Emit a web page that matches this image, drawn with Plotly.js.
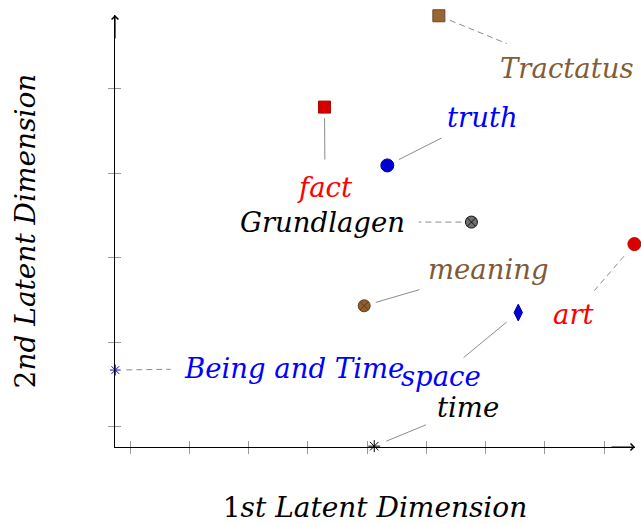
<!DOCTYPE html>
<html>
<head>
<meta charset="utf-8">
<script src="https://cdn.plot.ly/plotly-3.0.1.min.js"></script>
<style>
  html, body { margin: 0; padding: 0; background: #fff; }
  #chart { width: 641px; height: 524px; }
</style>
</head>
<body>
<div id="chart"></div>
<script>
// words placed in the 2-d latent space
const words = ["Tractatus", "fact", "truth", "Grundlagen", "meaning", "space", "art", "Being and Time", "time"];
const dim1 = [1.21, -0.72, 0.34, 1.76, -0.05, 2.55, 4.51, -4.25, 0.12];
const dim2 = [2.86, 1.78, 1.09, 0.42, -0.57, -0.65, 0.16, -1.33, -2.23];

// where each word's label sits (same units as the axes)
const labelX = [3.37, -0.71, 1.95, -0.75, 2.05, 1.25, 3.49, -1.24, 1.71];
const labelY = [2.24, 0.84, 1.66, 0.42, -0.14, -1.40, -0.67, -1.30, -1.77];

const xTicks = [-4, -3, -2, -1, 0, 1, 2, 3, 4];
const yTicks = [-2, -1, 0, 1, 2];

// styles
const symbols = ["square", "square", "circle", "circle-x", "circle-x", "diamond-tall", "circle", "asterisk-open", "asterisk-open"];
const fillCol = ["#9a6532", "#d40000", "#0000d0", "#707070", "#8f5f2f", "#0000d0", "#d90000", "#0000ff", "#000000"];
const edgeCol = ["#6e4522", "#b00000", "#0000b0", "#111111", "#5e3c1c", "#0000b0", "#c00000", "#0000ff", "#000000"];
const sizes = [12, 12, 13, 12, 12, 12, 13, 9, 10];
const textCol = ["#845c36", "#ff0000", "#0000ff", "#000000", "#7f5a36", "#0000ff", "#ff0000", "#0000ff", "#000000"];
const dashed = [true, false, false, true, false, false, true, true, false];
const gapAtPoint = [12, 11, 13, 10, 12, 15, 16, 11, 13];
const gapAtLabel = [65, 27, 46, 96, 72, 29, 31, 123, 46];

const W = 641, H = 524;
const margin = { l: 115, r: 6, t: 15, b: 77 };
const xRange = [-4.255, 4.52];
const yRange = [-2.24, 2.869];
const serif = "DejaVu Serif";

const pxX = (W - margin.l - margin.r) / (xRange[1] - xRange[0]);
const pxY = (H - margin.t - margin.b) / (yRange[1] - yRange[0]);

// leader lines from each point toward its label, trimmed at both ends
const shapes = words.map((w, i) => {
  const dx = (labelX[i] - dim1[i]) * pxX;
  const dy = (labelY[i] - dim2[i]) * pxY;
  const len = Math.hypot(dx, dy);
  const ux = dx / len, uy = dy / len;
  return {
    type: "line", xref: "x", yref: "y", layer: "below",
    x0: dim1[i] + ux * gapAtPoint[i] / pxX,
    y0: dim2[i] + uy * gapAtPoint[i] / pxY,
    x1: labelX[i] - ux * gapAtLabel[i] / pxX,
    y1: labelY[i] - uy * gapAtLabel[i] / pxY,
    line: { color: "#8c8c8c", width: 1, dash: dashed[i] ? "6px,4px" : "solid" }
  };
});

const annotations = words.map((w, i) => ({
  text: w, x: labelX[i], y: labelY[i], xref: "x", yref: "y",
  showarrow: false, xanchor: "center", yanchor: "middle",
  font: { family: serif, size: 27.5, color: textCol[i], style: "italic" }
}));

// arrow heads on both axes
annotations.push({
  text: "", x: xRange[1], y: yRange[0], xref: "x", yref: "y",
  showarrow: true, ax: -25, ay: 0, arrowhead: 4, arrowsize: 1.1, arrowwidth: 1.2,
  arrowcolor: "#000", standoff: 0
});
annotations.push({
  text: "", x: xRange[0], y: yRange[1], xref: "x", yref: "y",
  showarrow: true, ax: 0, ay: 25, arrowhead: 4, arrowsize: 1.1, arrowwidth: 1.2,
  arrowcolor: "#000", standoff: 0
});

const points = {
  x: dim1, y: dim2, mode: "markers", type: "scatter", cliponaxis: false,
  hoverinfo: "text", text: words,
  marker: {
    symbol: symbols, size: sizes, color: fillCol, opacity: 1,
    line: { color: edgeCol, width: 1 }
  }
};
// keeps the overlaid tick axes alive
const tickHolder = { x: [], y: [], xaxis: "x2", yaxis: "y2", type: "scatter", mode: "markers", hoverinfo: "skip" };

const baseAxis = {
  showgrid: false, zeroline: false, showticklabels: false,
  tickmode: "array", tickcolor: "#9a9a9a", tickwidth: 1, ticklen: 6, fixedrange: true
};

const layout = {
  width: W, height: H, margin: margin,
  paper_bgcolor: "#fff", plot_bgcolor: "#fff", showlegend: false,
  xaxis: Object.assign({}, baseAxis, {
    range: xRange, tickvals: xTicks, ticks: "outside",
    showline: true, linecolor: "#000", linewidth: 1.2,
    title: { text: "1<i>st Latent Dimension</i>", standoff: 45, font: { family: serif, size: 28, color: "#000" } }
  }),
  yaxis: Object.assign({}, baseAxis, {
    range: yRange, tickvals: yTicks, ticks: "outside",
    showline: true, linecolor: "#000", linewidth: 1.2,
    title: { text: "2<i>nd Latent Dimension</i>", standoff: 64, font: { family: serif, size: 28, color: "#000" } }
  }),
  xaxis2: Object.assign({}, baseAxis, {
    range: xRange, tickvals: xTicks, ticks: "inside", overlaying: "x", anchor: "y2", side: "bottom", showline: false
  }),
  yaxis2: Object.assign({}, baseAxis, {
    range: yRange, tickvals: yTicks, ticks: "inside", overlaying: "y", anchor: "x2", side: "left", showline: false
  }),
  shapes: shapes,
  annotations: annotations
};

Plotly.newPlot("chart", [points, tickHolder], layout, { displayModeBar: false, staticPlot: true });
</script>
</body>
</html>
